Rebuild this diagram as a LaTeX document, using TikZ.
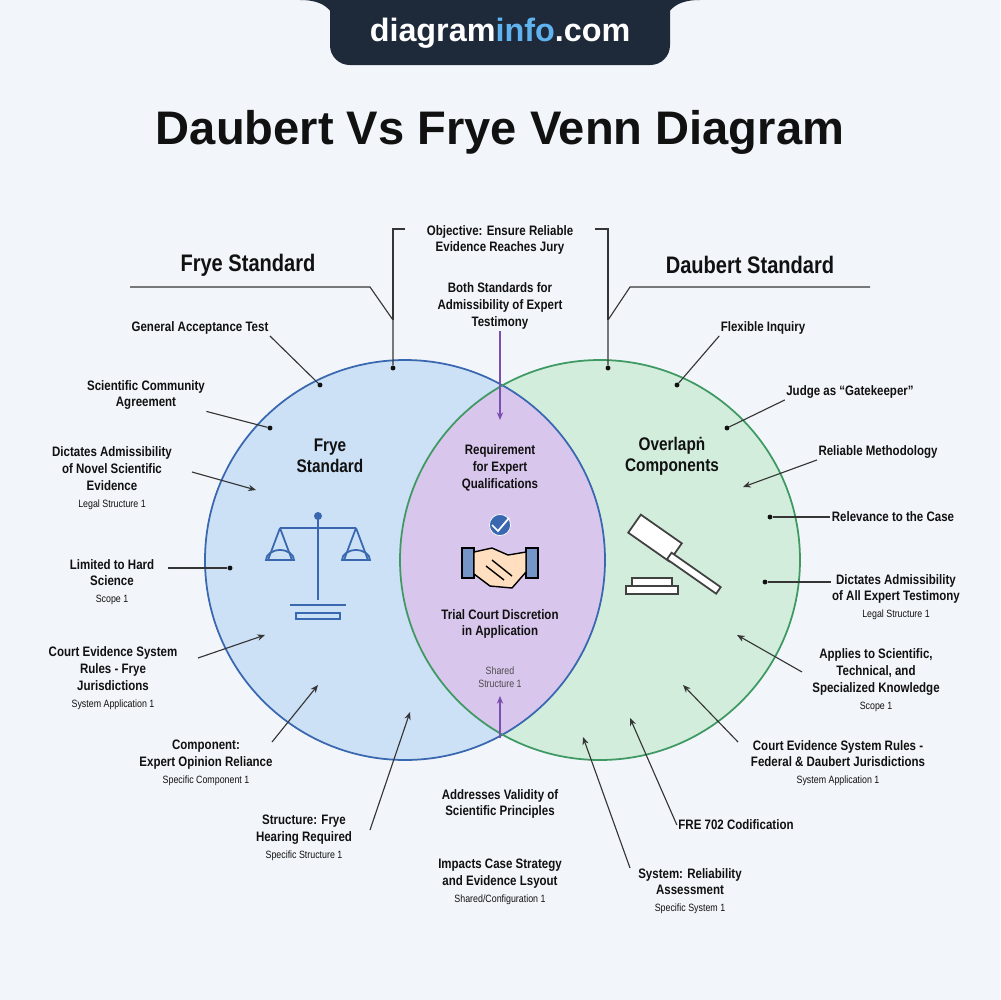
\documentclass[tikz,border=0pt]{standalone}
\usepackage{fontspec}
\setmainfont{Liberation Sans}[FakeStretch=0.84]
\newfontfamily\titlefont{Liberation Sans}
\usetikzlibrary{arrows.meta}
\definecolor{bgc}{HTML}{F2F6FA}
\definecolor{fryefill}{HTML}{CCE0F6}
\definecolor{fryeline}{HTML}{3A68B0}
\definecolor{daubfill}{HTML}{D3EDDC}
\definecolor{daubline}{HTML}{3E9A62}
\definecolor{lensfill}{HTML}{D8C6EC}
\definecolor{lensline}{HTML}{7A4FB0}
\definecolor{tabc}{HTML}{1E2A3A}
\definecolor{infoc}{HTML}{5FB4F0}
\definecolor{txt}{HTML}{111111}
\begin{document}
\begin{tikzpicture}[x=0.05cm,y=-0.05cm]
\tikzstyle{lbl}=[align=center,text=txt,font=\fontsize{19.5}{24}\selectfont\bfseries,inner sep=2pt]
\tikzstyle{sub}=[font=\fontsize{15}{19}\selectfont]
\tikzstyle{head}=[text=txt,font=\fontsize{34}{38}\selectfont\bfseries]
\tikzstyle{inner}=[align=center,text=txt,font=\fontsize{26}{30}\selectfont\bfseries]
\tikzstyle{dot}=[circle,fill=txt,inner sep=0pt,minimum size=7pt]
\tikzstyle{lead}=[draw=txt!85,line width=1.6pt]
\tikzstyle{tip}=[lead,-{Stealth[length=11pt,width=9pt]}]
\tikzstyle{ptip}=[draw=lensline,line width=1.6pt,-{Stealth[length=11pt,width=9pt]}]

\fill[bgc] (0,0) rectangle (1000,1000);
\useasboundingbox (0,0) rectangle (1000,1000);

% banner and title
\fill[tabc,rounded corners=28pt] (330,-40) rectangle (670,65);
\fill[tabc] (300,0) .. controls (325,0) and (335,10) .. (340,35) -- (340,0) -- cycle;
\fill[tabc] (700,0) .. controls (675,0) and (665,10) .. (660,35) -- (660,0) -- cycle;
\node[font=\fontsize{46}{48}\selectfont\titlefont\bfseries,text=white] (site) at (500,33) {diagram\textcolor{infoc}{info}.com};
\node[font=\fontsize{67}{70}\selectfont\titlefont\bfseries,text=txt] (title) at (500,132) {Daubert Vs Frye Venn Diagram};

% circles
\fill[fryefill] (405,560) circle (200);
\fill[daubfill] (600,560) circle (200);
\begin{scope}
\clip (405,560) circle (200);
\fill[lensfill] (600,560) circle (200);
\end{scope}
\draw[fryeline,line width=2.5pt] (405,560) circle (200);
\draw[daubline,line width=2.5pt] (600,560) circle (200);

% headers
\node[head] (frye) at (248,265) {Frye Standard};
\node[head] (daub) at (750,265) {Daubert Standard};
\node[dot] (fd) at (393,368) {};
\node[dot] (dd) at (608,368) {};
\draw[lead] (130,287) -- (370,287) -- (393,320) -- (fd);
\draw[lead] (870,287) -- (630,287) -- (608,320) -- (dd);
\draw[lead] (405,229) -- (393,229) -- (393,320);
\draw[lead] (595,229) -- (608,229) -- (608,320);

% centre texts
\node[lbl] (obj) at (500,240) {Objective: Ensure Reliable\\Evidence Reaches Jury};
\node[lbl] (both) at (500,306) {Both Standards for\\Admissibility of Expert\\Testimony};
\coordinate (bothE) at (500,420);
\draw[ptip] (both) -- (bothE);
\node[lbl] (req) at (500,468) {Requirement\\for Expert\\Qualifications};
\node[lbl] (trial) at (500,624) {Trial Court Discretion\\in Application};
\node[lbl,sub,text=txt!75] (shared) at (500,677) {Shared\\Structure 1};
\node[lbl] (addr) at (500,804) {Addresses Validity of\\Scientific Principles};
\coordinate (addrE) at (500,696);
\draw[ptip] (500,738) -- (addrE);
\node[lbl] (imp) at (500,882) {Impacts Case Strategy\\and Evidence Lsyout\\{\fontsize{15}{19}\selectfont\mdseries Shared/Configuration 1}};

% inner titles
\node[inner] (fin) at (330,456) {Frye\\Standard};
\node[inner] (din) at (672,456) {Overlapṅ\\Components};

% scales icon
\begin{scope}[draw=fryeline,line width=2.5pt,fill=fryeline!25]
\draw (318,517) -- (318,600);
\draw (290,605) -- (346,605);
\draw (296,613) rectangle (340,619);
\draw (280,528) -- (356,528);
\fill[fryeline] (318,516) circle (4);
\draw (280,528) -- (268,560) (280,528) -- (292,560);
\draw (356,528) -- (344,560) (356,528) -- (368,560);
\draw (266,560) arc (180:360:14 and 10) -- cycle;
\draw (342,560) arc (180:360:14 and 10) -- cycle;
\end{scope}

% gavel icon
\begin{scope}[draw=txt!80,line width=2.5pt]
\draw[fill=white,rotate around={-35:(655,538)}] (630,527) rectangle (680,549);
\draw[fill=white,rotate around={-35:(675,560)}] (668,556) rectangle (728,564);
\draw[fill=white] (632,578) rectangle (672,586);
\draw[fill=white] (626,586) rectangle (678,594);
\end{scope}

% badge and handshake
\node[circle,fill=fryeline,draw=white,line width=1pt,minimum size=30pt] (badge) at (500,525) {};
\draw[white,line width=2.5pt] (492,525) -- (498,531) -- (509,518);
\begin{scope}[line width=2pt]
\draw[fill=fryeline!70] (462,548) rectangle (474,578);
\draw[fill=fryeline!70] (526,548) rectangle (538,578);
\draw[fill=orange!25] (474,552) -- (492,548) -- (508,555) -- (526,552) -- (526,572) -- (512,588) -- (490,586) -- (474,574) -- cycle;
\draw (492,560) -- (512,576) (486,566) -- (504,580);
\end{scope}

% left labels
\node[lbl] (l1) at (200,328) {General Acceptance Test};
\node[dot] (l1d) at (320,385) {};
\draw[lead] (l1.south east) -- (l1d);
\node[lbl] (l2) at (146,395) {Scientific Community\\Agreement};
\node[dot] (l2d) at (270,428) {};
\draw[lead] (l2.south east) -- (l2d);
\node[lbl] (l3) at (112,478) {Dictates Admissibility\\of Novel Scientific\\Evidence\\{\fontsize{15}{19}\selectfont\mdseries Legal Structure 1}};
\coordinate (l3e) at (256,490);
\draw[tip] (192,472) -- (l3e);
\node[lbl] (l4) at (112,582) {Limited to Hard\\Science\\{\fontsize{15}{19}\selectfont\mdseries Scope 1}};
\node[dot] (l4d) at (230,568) {};
\draw[lead] (168,568) -- (l4d);
\node[lbl] (l5) at (113,678) {Court Evidence System\\Rules - Frye\\Jurisdictions\\{\fontsize{15}{19}\selectfont\mdseries System Application 1}};
\coordinate (l5e) at (265,635);
\draw[tip] (198,658) -- (l5e);
\node[lbl] (l6) at (206,763) {Component:\\Expert Opinion Reliance\\{\fontsize{15}{19}\selectfont\mdseries Specific Component 1}};
\coordinate (l6e) at (318,685);
\draw[tip] (272,742) -- (l6e);
\node[lbl] (l7) at (304,838) {Structure: Frye\\Hearing Required\\{\fontsize{15}{19}\selectfont\mdseries Specific Structure 1}};
\coordinate (l7e) at (410,712);
\draw[tip] (370,830) -- (l7e);

% right labels
\node[lbl] (r1) at (763,328) {Flexible Inquiry};
\node[dot] (r1d) at (677,385) {};
\draw[lead] (r1.south west) -- (r1d);
\node[lbl] (r2) at (850,392) {Judge as ``Gatekeeper''};
\node[dot] (r2d) at (727,428) {};
\draw[lead] (r2.south west) -- (r2d);
\node[lbl] (r3) at (878,452) {Reliable Methodology};
\coordinate (r3e) at (743,487);
\draw[tip] (r3.south west) -- (r3e);
\node[lbl] (r4) at (893,517) {Relevance to the Case};
\node[dot] (r4d) at (770,517) {};
\draw[lead] (r4.west) -- (r4d);
\node[lbl] (r5) at (896,597) {Dictates Admissibility\\of All Expert Testimony\\{\fontsize{15}{19}\selectfont\mdseries Legal Structure 1}};
\node[dot] (r5d) at (765,582) {};
\draw[lead] (r5.west |- r5d) -- (r5d);
\node[lbl] (r6) at (876,680) {Applies to Scientific,\\Technical, and\\Specialized Knowledge\\{\fontsize{15}{19}\selectfont\mdseries Scope 1}};
\coordinate (r6e) at (737,635);
\draw[tip] (802,672) -- (r6e);
\node[lbl] (r7) at (838,763) {Court Evidence System Rules -\\Federal \& Daubert Jurisdictions\\{\fontsize{15}{19}\selectfont\mdseries System Application 1}};
\coordinate (r7e) at (683,685);
\draw[tip] (738,742) -- (r7e);
\node[lbl] (r8) at (736,825) {FRE 702 Codification};
\coordinate (r8e) at (630,718);
\draw[tip] (r8.west) -- (r8e);
\node[lbl] (r9) at (690,891) {System: Reliability\\Assessment\\{\fontsize{15}{19}\selectfont\mdseries Specific System 1}};
\coordinate (r9e) at (583,737);
\draw[tip] (630,868) -- (r9e);
\end{tikzpicture}
\end{document}
